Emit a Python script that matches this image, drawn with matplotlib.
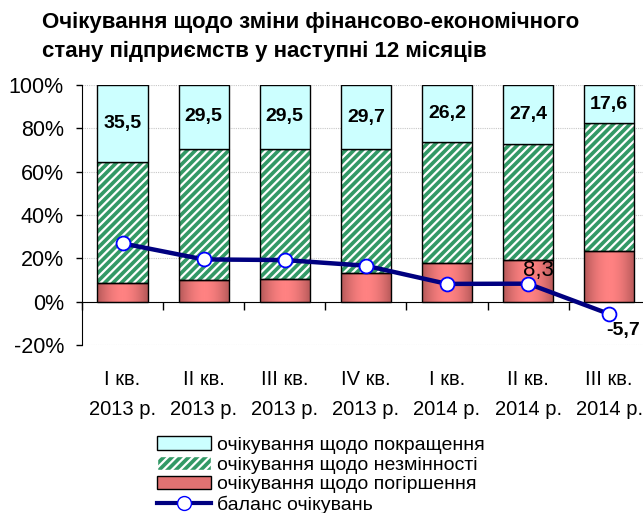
import numpy as np
import matplotlib
matplotlib.use('Agg')
from matplotlib import pyplot as plt
from matplotlib.patches import Rectangle
from matplotlib.lines import Line2D

plt.rcParams['font.family'] = ['Liberation Sans', 'DejaVu Sans']
plt.rcParams['hatch.linewidth'] = 1.6

quarters = ['I кв.\n2013 р.', 'II кв.\n2013 р.', 'III кв.\n2013 р.', 'IV кв.\n2013 р.',
            'I кв.\n2014 р.', 'II кв.\n2014 р.', 'III кв.\n2014 р.']
improve = [35.5, 29.5, 29.5, 29.7, 26.2, 27.4, 17.6]
worse = [8.6, 10.0, 10.3, 13.1, 18.0, 19.1, 23.3]
balance = [26.9, 19.5, 19.2, 16.6, 8.2, 8.3, -5.7]
same = [100 - a - b for a, b in zip(improve, worse)]

x = np.arange(len(quarters))
w = 0.62

fig = plt.figure(figsize=(6.43, 5.13), dpi=100)
ax = fig.add_axes([0.1275, 0.3275, 0.883, 0.5068])

# deterioration bars with a horizontal gradient
red_bars = ax.bar(x, worse, width=w, color='none', edgecolor='black', linewidth=1, zorder=3)
grad = np.abs(np.linspace(-1, 1, 64)) ** 1.8
cmap = matplotlib.colors.LinearSegmentedColormap.from_list('rg', ['#ff8282', '#b45858'])
for b in red_bars:
    im = ax.imshow(grad[np.newaxis, :], cmap=cmap, aspect='auto', zorder=2,
                   extent=(b.get_x(), b.get_x() + b.get_width(), 0, b.get_height()))
    im.set_clip_path(b)

# no-change bars, green with white stripes
ax.bar(x, same, width=w, bottom=worse, color='#339966', edgecolor='white', hatch='////',
       linewidth=0, zorder=2)
ax.bar(x, same, width=w, bottom=worse, color='none', edgecolor='black', linewidth=1, zorder=3)

# improvement bars
top_bottom = [a + b for a, b in zip(worse, same)]
ax.bar(x, improve, width=w, bottom=top_bottom, color='#ccffff', edgecolor='black',
       linewidth=1, zorder=3)

for i in range(len(x)):
    ax.text(x[i], top_bottom[i] + improve[i] / 2, f'{improve[i]:.1f}'.replace('.', ','),
            ha='center', va='center', fontsize=14, fontweight='bold', zorder=5)

ax.plot(x, balance, color='#000080', linewidth=3.2, marker='o', markersize=10,
        markerfacecolor='white', markeredgecolor='#0000ff', markeredgewidth=1.3, zorder=6)
ax.annotate(f'{balance[5]:.1f}'.replace('.', ','), (x[5], balance[5]), xytext=(-4, 2),
            textcoords='offset points', ha='left', va='bottom', fontsize=16, zorder=7)
ax.annotate(f'{balance[6]:.1f}'.replace('.', ','), (x[6], balance[6]), xytext=(-2, -6),
            textcoords='offset points', ha='left', va='top', fontsize=14,
            fontweight='bold', zorder=7)

ax.set_ylim(-20, 100)
ax.set_xlim(-0.5, 6.5)
ax.set_yticks(range(-20, 101, 20))
ax.set_yticklabels([f'{v}%' for v in range(-20, 101, 20)], fontsize=15.5)
ax.yaxis.grid(True, color='#c8c8c8', linestyle=(0, (1, 1)), linewidth=0.8)
ax.set_axisbelow(True)
ax.tick_params(axis='y', length=4, width=1, pad=9)

ax.spines['top'].set_visible(False)
ax.spines['right'].set_visible(False)
ax.spines['bottom'].set_position(('data', 0))
ax.set_xticks(x)
ax.set_xticklabels(quarters, fontsize=14.5, linespacing=1.75)
ax.set_xticks(np.arange(-0.5, 7, 1), minor=True)
ax.tick_params(axis='x', which='major', length=0, pad=49)
ax.tick_params(axis='x', which='minor', length=6, width=1, direction='out')

fig.text(42 / 643, 1 - 12 / 513, 'Очікування щодо зміни фінансово-економічного\n'
         'стану підприємств у наступні 12 місяців', ha='left', va='top',
         fontsize=16, fontweight='bold', linespacing=1.5)

handles = [Rectangle((0, 0), 1, 1, facecolor='#ccffff', edgecolor='black'),
           Rectangle((0, 0), 1, 1, facecolor='#339966', edgecolor='white', hatch='////'),
           Rectangle((0, 0), 1, 1, facecolor='#e27272', edgecolor='black'),
           Line2D([], [], color='#000080', linewidth=3, marker='o', markersize=10,
                  markerfacecolor='white', markeredgecolor='#0000ff')]
labels = ['очікування щодо покращення', 'очікування щодо незмінності',
          'очікування щодо погіршення', 'баланс очікувань']
fig.legend(handles, labels, loc='upper left', bbox_to_anchor=(157 / 643, 1 - 436 / 513),
           frameon=False, fontsize=14, handlelength=2.8, handleheight=0.7,
           labelspacing=0.12, handletextpad=0.3, borderpad=0, borderaxespad=0)

fig.savefig('out.png', dpi=100)
